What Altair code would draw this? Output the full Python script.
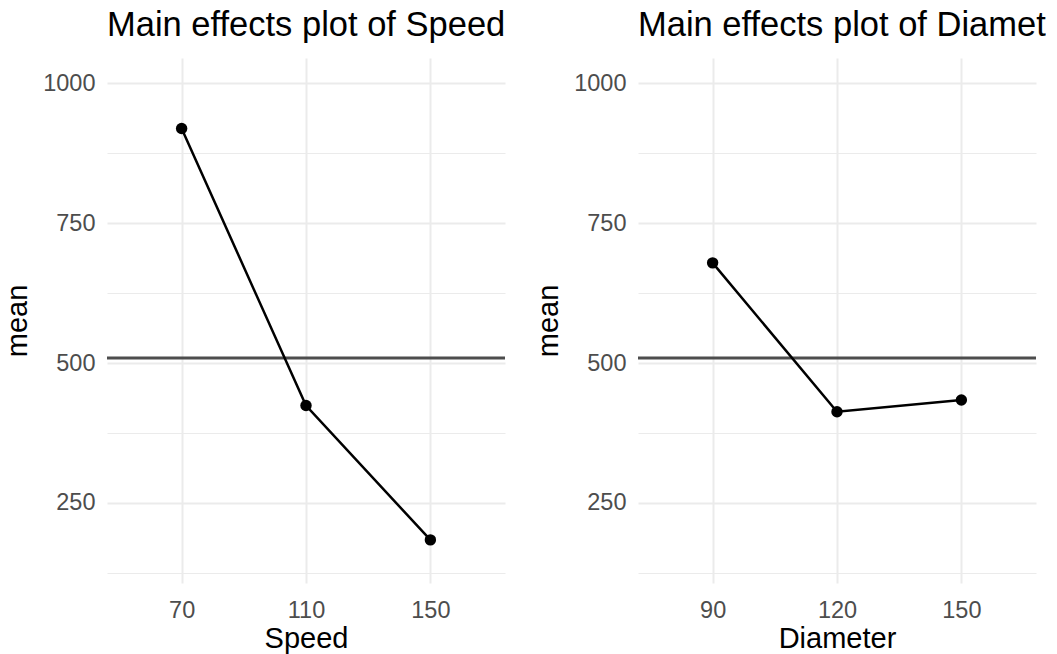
import altair as alt
import pandas as pd

speed_levels = ["70", "110", "150"]
speed_means = [919, 424, 184]
diameter_levels = ["90", "120", "150"]
diameter_means = [679, 413, 434]
grand_mean = 509
y_ticks = [125, 250, 375, 500, 625, 750, 875, 1000]
y_domain = [107, 1045]

FONT = "Liberation Sans"


def panel(levels, means, name, title_limit):
    df = pd.DataFrame({name: levels, "mean": means})
    hdf = pd.DataFrame({"mean": [grand_mean]})
    tdf = pd.DataFrame({"title": [f"Main effects plot of {name}"]})
    x = alt.X(
        f"{name}:O",
        sort=levels,
        title=name,
        scale=alt.Scale(type="point", padding=0.6),
        axis=alt.Axis(
            labelAngle=0,
            domain=False,
            ticks=False,
            tickSize=0,
            labelPadding=15,
            titlePadding=3,
            gridColor="#EBEBEB",
            gridWidth=2,
            grid=True,
        ),
    )
    y = alt.Y(
        "mean:Q",
        title="mean",
        scale=alt.Scale(domain=y_domain, nice=False, zero=False),
        axis=alt.Axis(
            values=y_ticks,
            format="d",
            labelExpr="datum.value % 250 === 0 ? datum.label : ''",
            domain=False,
            ticks=False,
            tickSize=0,
            labelPadding=12,
            titlePadding=10,
            gridColor="#EBEBEB",
            gridWidth={"condition": {"test": "datum.value % 250 === 0", "value": 2}, "value": 1},
        ),
    )
    base = alt.Chart(df)
    rule = alt.Chart(hdf).mark_rule(color="#4D4D4D", strokeWidth=3).encode(y=y)
    line = base.mark_line(color="black", strokeWidth=2.5).encode(x=x, y=y)
    pts = base.mark_circle(color="black", size=130, opacity=1).encode(x=x, y=y)
    ttl = alt.Chart(tdf).mark_text(
        align="left",
        baseline="alphabetic",
        fontSize=34.5,
        font=FONT,
        color="black",
        limit=title_limit,
        ellipsis="\u200b",
    ).encode(x=alt.value(0), y=alt.value(-22), text="title:N")
    return alt.layer(rule, line, pts, ttl).properties(width=398, height=525)


left = panel(speed_levels, speed_means, "Speed", 600)
right = panel(diameter_levels, diameter_means, "Diameter", 411)

chart = (
    alt.hconcat(left, right, spacing=27)
    .configure(padding={"left": -5, "top": 0, "right": 0, "bottom": 0}, font=FONT)
    .configure_view(stroke=None)
    .configure_axis(
        labelFont=FONT,
        labelFontSize=23.5,
        labelColor="#4D4D4D",
        titleFont=FONT,
        titleFontSize=29,
        titleColor="black",
        titleFontWeight="normal",
    )
)

chart.save("out.html", embed_options={"renderer": "svg", "actions": False})
